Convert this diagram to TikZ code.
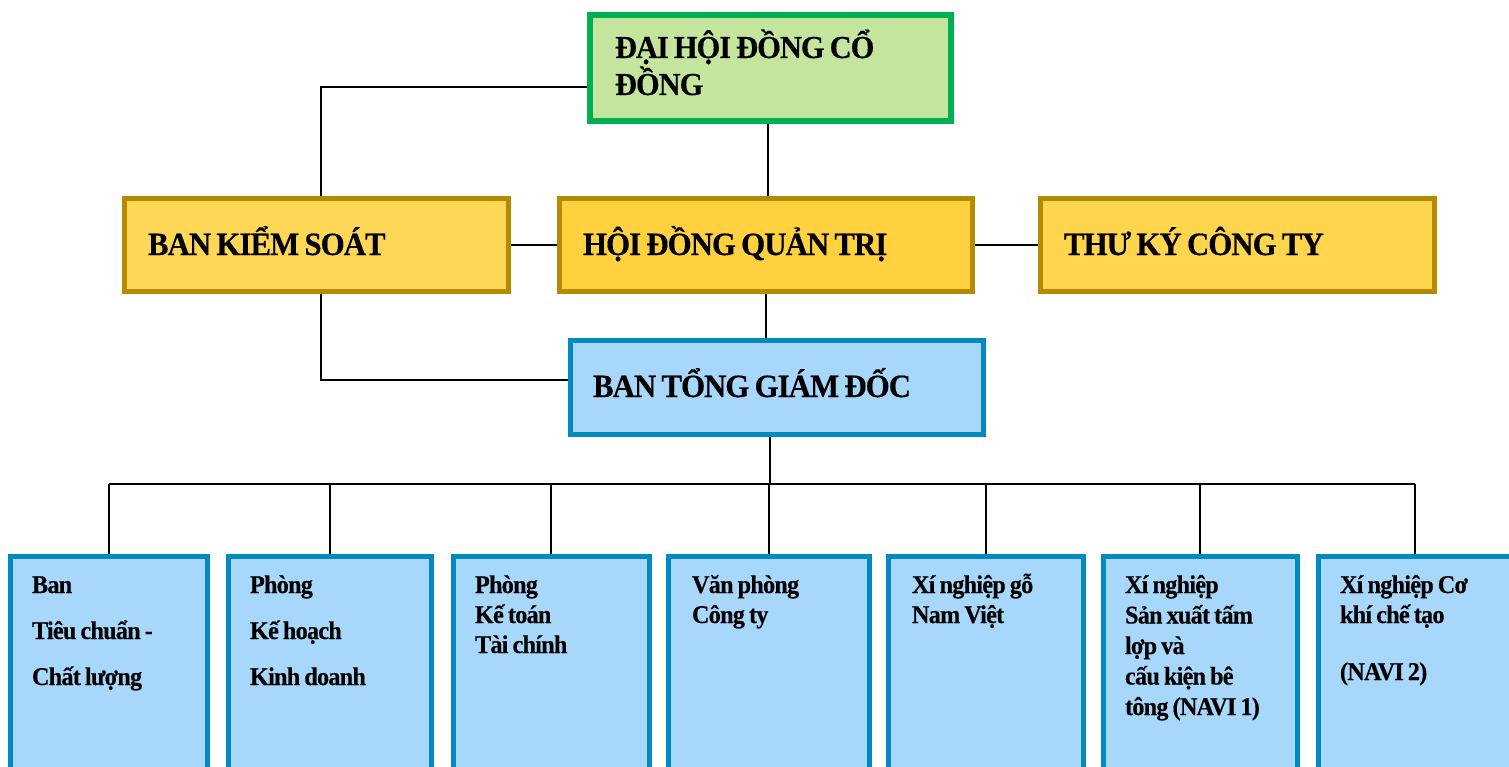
\documentclass[tikz,border=0pt]{standalone}
\usepackage{fontspec}
\setmainfont{Liberation Serif}[FakeStretch=0.95, LetterSpace=-3, FakeBold=0.4]
\usetikzlibrary{backgrounds}
\definecolor{gborder}{HTML}{00B050}
\definecolor{gfill}{HTML}{C3E59E}
\definecolor{yborder}{HTML}{B38A00}
\definecolor{yfillA}{HTML}{FFD757}
\definecolor{yfillB}{HTML}{FFD13F}
\definecolor{yfillC}{HTML}{FFD54E}
\definecolor{bborder}{HTML}{008ABF}
\definecolor{bfill}{HTML}{A7D8FB}
\newcommand\setfs[2]{\bfseries\fontsize{#1}{#2}\selectfont}
\tikzset{
  box/.style={rectangle, inner sep=0pt, outer sep=0pt},
  greenbox/.style={box, draw=gborder, fill=gfill, line width=6pt},
  goldbox/.style={box, draw=yborder, line width=5pt},
  bluebox/.style={box, draw=bborder, fill=bfill, line width=5pt},
  lbl/.style={anchor=base west, inner sep=0pt, outer sep=0pt, align=left,
    execute at begin node={\spaceskip=0.16em\xspaceskip=0.16em\relax}},
  big/.style={lbl, text width=360pt, font=\setfs{32.5}{37}},
  small/.style={lbl, text width=185pt, font=\setfs{25.5}{30}},
  conn/.style={draw=black, line width=1.8pt}
}
\begin{document}
\begin{tikzpicture}[x=1pt, y=-1pt]
\useasboundingbox (0,0) rectangle (1509,767);
\clip (0,0) rectangle (1509,767);
% boxes
\node[greenbox, minimum width=361pt, minimum height=106pt] (top) at (770.5,68) {};
\node[goldbox, fill=yfillA, minimum width=384pt, minimum height=93pt] (bks) at (316.5,245) {};
\node[goldbox, fill=yfillB, minimum width=413pt, minimum height=93pt] (hdqt) at (766,245) {};
\node[goldbox, fill=yfillC, minimum width=394pt, minimum height=93pt] (tkct) at (1237.5,245) {};
\node[bluebox, minimum width=413pt, minimum height=94pt] (btgd) at (777,387.5) {};
\node[bluebox, minimum width=197pt, minimum height=231pt] (b1) at (109,672) {};
\node[bluebox, minimum width=203pt, minimum height=231pt] (b2) at (330,672) {};
\node[bluebox, minimum width=196pt, minimum height=231pt] (b3) at (551,672) {};
\node[bluebox, minimum width=201pt, minimum height=231pt] (b4) at (769,672) {};
\node[bluebox, minimum width=195pt, minimum height=231pt] (b5) at (986,672) {};
\node[bluebox, minimum width=194pt, minimum height=231pt] (b6) at (1200,672) {};
\node[bluebox, minimum width=193pt, minimum height=231pt] (b7) at (1415,672) {};
% texts
\node[big, font=\setfs{32}{37}] (ttop) at (615,58) {ĐẠI HỘI ĐỒNG CỔ\\ĐỒNG};
\node[big] (tbks) at (148,255) {BAN KIỂM SOÁT};
\node[big] (thdqt) at (583,255) {HỘI ĐỒNG QUẢN TRỊ};
\node[big] (ttkct) at (1064,255) {THƯ KÝ CÔNG TY};
\node[big] (tbtgd) at (593,397) {BAN TỔNG GIÁM ĐỐC};
\node[small, font=\setfs{25.5}{46}] (tb1) at (32,593) {Ban\\Tiêu chuẩn -\\Chất lượng};
\node[small, font=\setfs{25.5}{46}] (tb2) at (250,593) {Phòng\\Kế hoạch\\Kinh doanh};
\node[small] (tb3) at (475,593) {Phòng\\Kế toán\\Tài chính};
\node[small] (tb4) at (692,593) {Văn phòng\\Công ty};
\node[small] (tb5) at (912,593) {Xí nghiệp gỗ\\Nam Việt};
\node[small, font=\setfs{25.5}{30.5}] (tb6) at (1125,593) {Xí nghiệp\\Sản xuất tấm\\lợp và\\cấu kiện bê\\tông (NAVI 1)};
\node[small] (tb7) at (1340,593) {Xí nghiệp Cơ\\khí chế tạo\\[27pt](NAVI 2)};
% connectors
\coordinate (c1) at (321,87);
\coordinate (c2) at (321,380);
\coordinate (bus) at (770,484);
\begin{scope}[on background layer]
\draw[conn] (top.west |- c1) -- (c1) -- (c1 |- bks.north);
\draw[conn] (top.south -| 768,0) -- (hdqt.north -| 768,0);
\draw[conn] (bks.east) -- (hdqt.west);
\draw[conn] (hdqt.east) -- (tkct.west);
\draw[conn] (hdqt.south) -- (hdqt.south |- btgd.north);
\draw[conn] (c1 |- bks.south) -- (c2) -- (c2 -| btgd.west);
\draw[conn] (btgd.south -| bus) -- (bus);
\draw[conn] (b1.north |- bus) -- (b7.north |- bus);
\foreach \b in {b1,b2,b3,b4,b5,b6,b7} {
  \draw[conn] (\b.north |- bus) -- (\b.north);
}
\end{scope}
\end{tikzpicture}
\end{document}
